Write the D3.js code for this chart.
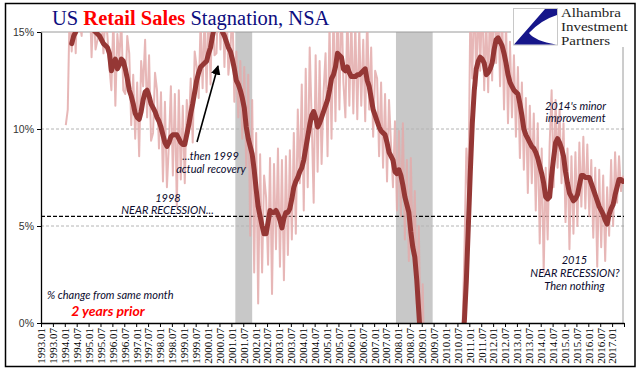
<!DOCTYPE html>
<html><head><meta charset="utf-8">
<script src="https://cdn.jsdelivr.net/npm/d3@7"></script>
<style>body{margin:0;background:#fff} svg{display:block}</style>
</head><body><svg id="c" width="641" height="375"></svg>
<script>
// ---------- DATA ----------
const tickLabels = ["1993.01","1993.07","1994.01","1994.07","1995.01","1995.07","1996.01","1996.07","1997.01","1997.07",
"1998.01","1998.07","1999.01","1999.07","2000.01","2000.07","2001.01","2001.07","2002.01","2002.07",
"2003.01","2003.07","2004.01","2004.07","2005.01","2005.07","2006.01","2006.07","2007.01","2007.07",
"2008.01","2008.07","2009.01","2009.07","2010.01","2010.07","2011.01","2011.07","2012.01","2012.07",
"2013.01","2013.07","2014.01","2014.07","2015.01","2015.07","2016.01","2016.07","2017.01"];
const yTicks = [0, 5, 10, 15];

// monthly % change from same month 2 years prior (NSA), from 1994.01 (one row per year)
const monthlyStart = "1994.01";
const monthlyValues = [
 10.2,11.0,16.5,14.0,17.0,13.9,18.0,15.5,14.8,17.5,16.8,15.2,
 17.2,13.7,16.4,14.1,14.6,16.8,15.6,13.9,16.0,14.8,13.2,12.0,
 15.8,11.2,14.9,13.6,15.6,12.0,11.8,14.8,13.9,10.2,12.8,9.5,
 12.4,8.6,13.5,12.2,14.6,10.6,13.8,9.4,9.8,12.9,12.0,9.0,
 11.9,7.3,11.4,7.0,9.2,12.2,7.6,11.8,6.0,12.0,7.4,11.2,
 7.2,11.5,9.8,12.6,9.3,14.0,13.2,11.6,15.6,12.1,16.0,11.9,
 16.5,12.3,17.2,13.8,13.9,17.5,14.1,17.0,13.2,16.5,12.8,14.0,
 16.3,11.4,14.0,10.6,13.5,9.5,13.2,8.0,12.8,4.5,11.5,2.6,
 9.8,1.0,8.7,2.6,7.6,6.5,3.0,8.5,1.5,8.2,3.8,9.0,
 2.9,8.4,2.2,8.6,3.5,8.9,4.3,9.8,4.6,11.0,7.2,12.3,
 5.8,13.1,7.0,14.2,10.5,6.2,13.8,7.8,13.5,8.2,11.9,13.9,
 8.6,15.5,9.5,16.2,10.4,16.8,11.0,17.0,12.4,10.6,16.2,11.2,
 15.8,10.8,15.5,10.5,15.2,11.2,14.6,10.4,16.0,11.0,14.2,9.6,
 13.0,12.6,8.6,12.4,8.0,11.8,7.3,11.5,9.2,7.0,10.4,5.8,
 9.9,5.5,10.3,4.3,8.4,3.2,8.5,3.5,6.8,1.0,5.0,-1.0,
 2.0,-4.0,-3.5,-7.0,-6.2,-10.0,-8.5,-11.0,-9.0,-10.5,-8.0,-10.0,
 -7.2,-8.6,-5.5,-7.8,-3.6,-5.9,-2.8,-4.0,-0.5,3.5,9.0,6.5,
 16.0,12.6,17.5,12.2,16.8,13.0,17.2,12.0,15.8,11.9,17.0,12.5,
 18.0,13.4,17.0,12.2,16.3,11.0,15.6,10.3,14.5,10.6,13.8,9.6,
 13.2,8.5,12.4,7.9,11.6,6.7,11.2,7.2,10.8,5.8,10.3,4.1,
 9.0,2.6,8.0,4.3,9.2,12.0,7.0,11.5,8.0,11.0,7.2,10.3,
 5.2,9.0,3.8,8.6,4.6,8.8,5.0,9.3,6.0,9.6,5.9,9.2,
 5.5,8.4,4.4,8.0,2.9,7.9,3.9,7.6,3.2,7.0,4.5,8.4,
 5.0,8.8,6.2,8.6,6.8,7.6
];

// smoothed series (thick line), from 1994.04
const smoothStart = "1994.04";
const smoothValues = [
 14.4,14.8,15.0,15.4,15.8,16.1,16.3,16.2,16.0,
 15.7,15.4,15.1,15.0,14.9,14.8,14.6,14.4,14.3,14.2,13.9,13.0,
 13.4,13.6,13.1,13.3,13.6,13.5,13.1,12.6,12.0,11.7,11.3,10.8,
 10.6,10.5,10.9,11.5,11.9,12.0,11.7,11.3,11.1,10.9,10.6,10.4,
 10.1,9.7,9.3,9.1,9.3,9.6,9.7,9.7,9.7,9.5,9.3,9.2,
 9.2,9.7,10.2,10.8,11.3,11.9,12.5,12.9,13.2,13.3,13.4,13.5,
 13.9,14.2,14.8,15.3,15.7,15.8,15.4,15.0,14.8,14.5,14.2,14.0,
 13.6,13.1,12.5,12.3,12.0,11.6,11.1,10.1,9.5,9.1,8.7,7.9,
 6.9,6.0,5.5,5.0,4.6,4.6,5.2,5.8,5.7,5.7,5.8,5.6,
 5.3,4.9,5.4,5.7,5.7,5.9,6.4,7.0,7.3,7.5,7.8,8.0,
 8.4,9.0,9.6,10.2,10.7,10.9,10.6,10.1,10.3,10.6,10.9,11.2,
 11.5,12.0,12.6,12.8,13.2,13.9,13.8,13.7,13.1,13.0,13.2,12.9,
 12.7,12.7,12.7,12.8,12.8,12.9,13.0,13.1,12.5,12.2,11.6,11.0,
 10.7,10.4,10.1,9.9,9.8,9.7,9.3,8.8,8.6,8.4,7.8,7.7,
 7.9,7.6,7.1,6.5,6.1,5.7,4.7,3.9,3.4,2.2,0.6,-1.0,
 -2.5,-4.0,-5.5,-6.8,-7.8,-8.5,-9.0,-9.2,-9.0,-8.6,-8.0,-7.3,
 -6.5,-5.7,-4.9,-4.1,-3.4,-2.7,-2.1,-1.5,-0.9,0.1,2.2,5.0,
 7.8,10.3,12.0,13.1,13.5,13.7,13.6,13.4,12.8,12.9,13.1,13.4,
 14.1,14.6,14.7,14.5,14.3,13.9,13.4,12.8,12.4,12.2,12.0,11.9,
 11.8,11.3,10.7,10.0,9.7,9.5,9.3,9.1,9.0,8.8,8.5,8.1,
 7.7,7.2,6.5,6.4,6.5,7.6,8.5,9.3,9.5,9.3,9.0,8.6,
 7.8,7.2,6.7,6.5,6.3,6.4,6.6,7.1,7.6,7.6,7.5,7.5,
 7.5,7.2,6.9,6.6,6.3,6.0,5.8,5.6,5.3,5.1,5.6,5.9,
 6.1,6.6,7.0,7.4,7.4,7.3
];

const recessions = [["2001.03","2001.11"],["2007.12","2009.06"]];
const nearRecessionLevel = 5.5;

// ---------- CHART ----------
const months = [];
for (let yr = 1993; yr <= 2017; yr++) for (let mo = 1; mo <= 12; mo++) {
  if (yr === 2017 && mo > 6) break;
  months.push(yr + "." + String(mo).padStart(2, "0"));
}
const idx = m => months.indexOf(m);

const svg = d3.select("#c");
const L = 41, R = 624, T = 32, B = 323;
const x = d3.scaleLinear().domain([0, months.length]).range([L, R]);
const y = d3.scaleLinear().domain([0, 15]).range([B, T]);

svg.append("rect").attr("width", 641).attr("height", 375).attr("fill", "#fff");
svg.append("rect").attr("x", 5.5).attr("y", 3.5).attr("width", 629.5).attr("height", 363)
  .attr("fill", "none").attr("stroke", "#000").attr("stroke-width", 1.5);

// recessions
svg.append("g").selectAll("rect").data(recessions).join("rect")
  .attr("x", d => x(idx(d[0])))
  .attr("width", d => x(idx(d[1]) + 0.5) - x(idx(d[0])))
  .attr("y", T).attr("height", B - T).attr("fill", "#c8c8c8");

// gridlines
svg.append("g").selectAll("line").data([5, 10]).join("line")
  .attr("x1", L).attr("x2", R).attr("y1", d => y(d)).attr("y2", d => y(d))
  .attr("stroke", "#b4b4b4").attr("stroke-width", 1).attr("stroke-dasharray", "3,2");
svg.append("line").attr("x1", L).attr("x2", R - 1).attr("y1", y(15)).attr("y2", y(15))
  .attr("stroke", "#9a9a9a").attr("stroke-width", 1);
svg.append("line").attr("x1", R - 1).attr("x2", R - 1).attr("y1", y(15)).attr("y2", B)
  .attr("stroke", "#9a9a9a").attr("stroke-width", 1);

// near recession line
svg.append("line").attr("x1", L).attr("x2", R).attr("y1", y(nearRecessionLevel)).attr("y2", y(nearRecessionLevel))
  .attr("stroke", "#000").attr("stroke-width", 1.2).attr("stroke-dasharray", "4,2");

// clip
svg.append("clipPath").attr("id", "clip").append("rect")
  .attr("x", L).attr("y", T).attr("width", R - L).attr("height", B - T);

const monthlyData = monthlyValues.map((v, i) => ({ i: idx(monthlyStart) + i, v }));
const smoothData = smoothValues.map((v, i) => ({ i: idx(smoothStart) + i, v }));
const line = d3.line().x(d => x(d.i + 0.5)).y(d => y(d.v));

svg.append("path").datum(monthlyData).attr("clip-path", "url(#clip)")
  .attr("d", line).attr("fill", "none").attr("stroke", "#e3aaaa").attr("stroke-opacity", 0.85)
  .attr("stroke-width", 2).attr("stroke-linejoin", "round");
svg.append("path").datum(smoothData).attr("clip-path", "url(#clip)")
  .attr("d", line).attr("fill", "none").attr("stroke", "#953735")
  .attr("stroke-width", 5).attr("stroke-linejoin", "round").attr("stroke-linecap", "round");

// axes
const yAxis = svg.append("g").attr("transform", `translate(${L},0)`)
  .call(d3.axisLeft(y).tickValues(yTicks).tickFormat(d => d + "%").tickSize(4).tickSizeOuter(0));
yAxis.select(".domain").attr("stroke", "#000").attr("stroke-width", 1.3);
yAxis.selectAll(".tick line").attr("stroke", "#000");
yAxis.selectAll("text").attr("font-family", "Liberation Sans, Arial, sans-serif").attr("font-size", 10.5)
  .attr("fill", "#333").attr("x", -7);

const xAxis = svg.append("g").attr("transform", `translate(0,${B})`)
  .call(d3.axisBottom(x).tickValues(d3.range(0, months.length + 1, 6))
    .tickFormat((d, i) => tickLabels[i] || "").tickSize(4).tickSizeOuter(0));
xAxis.select(".domain").attr("stroke", "#000").attr("stroke-width", 1.3);
xAxis.selectAll(".tick line").attr("stroke", "#000");
xAxis.selectAll("text").attr("transform", "rotate(-90)").attr("text-anchor", "end")
  .attr("x", -5).attr("y", 0).attr("dy", "0.35em")
  .attr("font-family", "Liberation Serif, Times New Roman, serif").attr("font-size", 11).attr("fill", "#000");

// title
const title = svg.append("text").attr("x", 52).attr("y", 25)
  .attr("font-family", "Liberation Serif, Times New Roman, serif").attr("font-size", 20.5);
title.append("tspan").text("US ").attr("fill", "#0d0d80");
title.append("tspan").text("Retail Sales").attr("fill", "#ff0000").attr("font-weight", "bold");
title.append("tspan").text(" Stagnation, NSA").attr("fill", "#0d0d80");

// logo
svg.append("rect").attr("x", 511).attr("y", 5).attr("width", 123).attr("height", 42).attr("fill", "#fff");
svg.append("rect").attr("x", 513.5).attr("y", 8.5).attr("width", 44).attr("height", 36.5)
  .attr("fill", "#fff").attr("stroke", "#c8c8c8").attr("stroke-width", 1);
svg.append("path").attr("d", "M557,9 L545,9 L514,44.5 L556,44.5 Q535,41 529,33 Q541,20 557,15 Z")
  .attr("fill", "#16168a");
const logoT = svg.append("g").attr("font-family", "Liberation Serif, Times New Roman, serif")
  .attr("font-size", 12.5).attr("fill", "#1e1e1e");
[["Alhambra", 16.5], ["Investment", 30.5], ["Partners", 44.5]].forEach(([t, yy]) =>
  logoT.append("text").attr("transform", `translate(561,${yy}) scale(1.2,1.05)`).text(t));

// annotations
const ann = svg.append("g").attr("font-family", "Lato, 'Open Sans', sans-serif")
  .attr("font-style", "italic").attr("font-size", 11).attr("fill", "#0b0b2e").attr("text-anchor", "middle");
const notes = [
  ["...then 1999", 210.5, 160], ["actual recovery", 211, 172.5],
  ["1998", 168, 201.5], ["NEAR RECESSION...", 167.5, 214],
  ["2014's minor", 575.5, 110], ["improvement", 575.5, 121.5],
  ["2015", 574.5, 264], ["NEAR RECESSION?", 575, 277], ["Then nothing", 574.5, 290]
];
notes.forEach(([t, xx, yy]) => ann.append("text").attr("x", xx).attr("y", yy).text(t));
svg.append("text").attr("x", 47).attr("y", 299).attr("font-family", "Lato, 'Open Sans', sans-serif")
  .attr("font-style", "italic").attr("font-size", 11).attr("fill", "#0b0b2e").text("% change from same month");
svg.append("text").attr("x", 108).attr("y", 316).attr("text-anchor", "middle")
  .attr("font-family", "Lato, 'Open Sans', sans-serif").attr("font-style", "italic").attr("font-weight", "bold")
  .attr("font-size", 14).attr("fill", "#ff0000").text("2 years prior");

// arrow
svg.append("defs").append("marker").attr("id", "ah").attr("viewBox", "0 0 10 10")
  .attr("refX", 9).attr("refY", 5).attr("markerWidth", 6).attr("markerHeight", 6).attr("orient", "auto")
  .append("path").attr("d", "M0,0 L10,5 L0,10 Z").attr("fill", "#000");
svg.append("line").attr("x1", 197).attr("y1", 142).attr("x2", 218).attr("y2", 66)
  .attr("stroke", "#000").attr("stroke-width", 1.6).attr("marker-end", "url(#ah)");
</script></body></html>
